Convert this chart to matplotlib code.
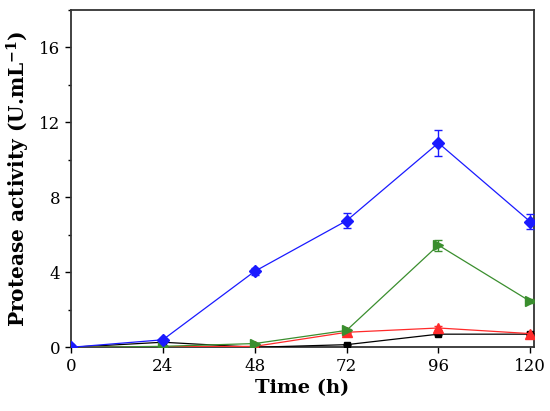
import matplotlib
matplotlib.use("Agg")
import matplotlib.pyplot as plt
from matplotlib.ticker import MultipleLocator

time_h = [0, 24, 48, 72, 96, 120]
blue_vals = [0.0, 0.4, 4.05, 6.75, 10.9, 6.7]
blue_err = [0.0, 0.05, 0.2, 0.4, 0.7, 0.4]
green_vals = [0.0, 0.05, 0.2, 0.9, 5.45, 2.45]
green_err = [0.0, 0.0, 0.05, 0.1, 0.3, 0.1]
red_vals = [0.0, 0.03, 0.05, 0.8, 1.03, 0.73]
red_err = [0.0, 0.0, 0.0, 0.05, 0.1, 0.1]
black_vals = [0.0, 0.27, 0.0, 0.14, 0.7, 0.7]
black_err = [0.0, 0.0, 0.0, 0.03, 0.05, 0.05]

xticks = [0, 24, 48, 72, 96, 120]
yticks = [0, 4, 8, 12, 16]

plt.rcParams['font.family'] = ['DejaVu Serif']
plt.rcParams['mathtext.fontset'] = 'dejavuserif'

fig = plt.figure(figsize=(5.5, 4.11), dpi=100)
ax = fig.add_axes([0.129, 0.155, 0.842, 0.821])

series = [
    (black_vals, black_err, 'black', 's', 5),
    (red_vals, red_err, '#ff2a2a', '^', 7),
    (green_vals, green_err, '#3a8e2e', '>', 7),
    (blue_vals, blue_err, '#1a1aff', 'D', 6),
]
for vals, err, col, mk, ms in series:
    ax.errorbar(time_h, vals, yerr=err, color=col, marker=mk, markersize=ms,
                linewidth=0.9, elinewidth=1.0, capsize=3, capthick=1.0, zorder=3)

ax.set_xlim(0, 121)
ax.set_ylim(0, 18)
ax.set_xticks(xticks)
ax.set_yticks(yticks)
ax.yaxis.set_minor_locator(MultipleLocator(2))
ax.tick_params(axis='both', which='major', direction='out', length=4, width=1, labelsize=12, colors='black')
ax.tick_params(axis='y', which='minor', direction='out', length=2.5, width=1)
for s in ax.spines.values():
    s.set_linewidth(1.3)
    s.set_color('#333333')

ax.set_xlabel('Time (h)', fontsize=14, fontweight='bold', labelpad=3)
ax.set_ylabel('Protease activity (U.mL$^{\\mathbf{-1}}$)', fontsize=14.5, fontweight='bold', labelpad=5)

fig.savefig('out.png', dpi=100)
